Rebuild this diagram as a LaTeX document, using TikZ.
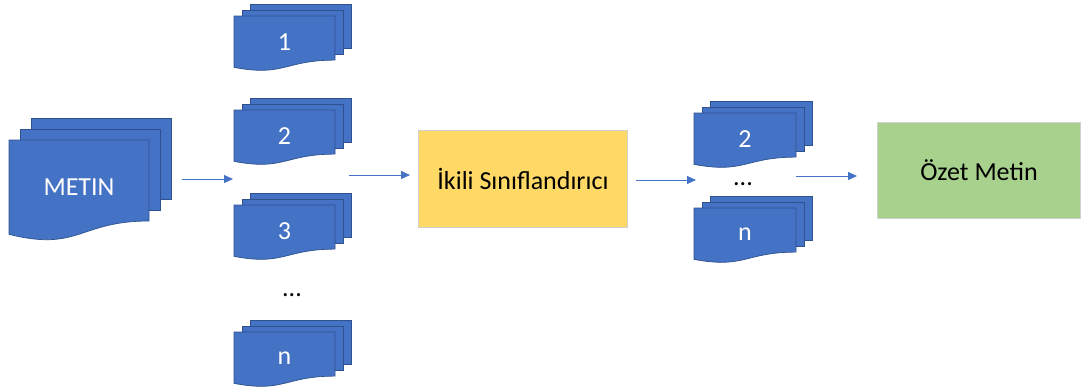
\documentclass[tikz,border=0pt]{standalone}
\usepackage{fontspec}
\setmainfont{Carlito}
\usepackage{xcolor}
\usetikzlibrary{arrows.meta, positioning, calc}

\definecolor{docblue}{HTML}{4472C4}
\definecolor{docedge}{HTML}{2F528F}
\definecolor{clfyellow}{HTML}{FFD966}
\definecolor{sumgreen}{HTML}{A9D18E}
\definecolor{boxedge}{HTML}{D0D0D0}

\tikzset{
    docsheet/.style={fill=docblue, draw=docedge, line width=0.7pt},
    doclabel/.style={text=white, font=\fontsize{26}{30}\selectfont, inner sep=0pt},
    stage/.style={draw=boxedge, line width=0.8pt, font=\fontsize{26}{30}\selectfont, text=black},
    flow/.style={draw=docblue, line width=0.9pt, -{Triangle[length=9pt,width=8pt]}}
}

% stack of three sheets: name, x, y, width, height, label
\newcommand{\docstack}[6]{%
    \draw[docsheet] ({#2+0.16*#4},{#3-0.21*#5}) rectangle ++(#4,{0.802*#5});
    \draw[docsheet] ({#2+0.08*#4},{#3-0.105*#5}) rectangle ++(#4,{0.802*#5});
    \draw[docsheet] (#2,#3) -- ++(#4,0) -- ++(0,{0.802*#5})
        .. controls ({#2+0.5*#4},{#3+0.802*#5}) and ({#2+0.5*#4},{#3+1.1075*#5})
        .. (#2,{#3+0.934*#5}) -- cycle;
    \node[doclabel] (#1) at ({#2+0.5*#4},{#3+0.47*#5}) {#6};
}

\begin{document}
\begin{tikzpicture}[x=1pt, y=-1pt]
    \useasboundingbox (0,0) rectangle (1081,389);

    % input text
    \docstack{metin}{9}{140}{140}{101}{METIN}

    % sentences
    \docstack{s1}{234}{16}{101}{55}{1}
    \docstack{s2}{234}{110}{101}{55}{2}
    \docstack{s3}{234}{205}{101}{55}{3}
    \node[font=\fontsize{26}{30}\selectfont] (sdots) at (292,295) {...};
    \docstack{sn}{234}{332}{101}{55}{n}

    % classifier
    \node[stage, fill=clfyellow, minimum width=209pt, minimum height=97pt] (clf) at (523,179) {İkili Sınıflandırıcı};

    % selected sentences
    \docstack{k2}{694}{113}{102}{55}{2}
    \node[font=\fontsize{26}{30}\selectfont] (kdots) at (743,184) {...};
    \docstack{kn}{694}{208}{102}{55}{n}

    % summary
    \node[stage, fill=sumgreen, minimum width=203pt, minimum height=96pt] (ozet) at (979,170) {Özet Metin};

    % arrow ends
    \coordinate (a1) at (182,179);
    \coordinate (b1) at (233,179);
    \coordinate (a2) at (349,175);
    \coordinate (b2) at (410,175);
    \coordinate (a3) at (636,180);
    \coordinate (b3) at (696,180);
    \coordinate (a4) at (796,176);
    \coordinate (b4) at (857,176);

    \draw[flow] (a1) -- (b1);
    \draw[flow] (a2) -- (b2);
    \draw[flow] (a3) -- (b3);
    \draw[flow] (a4) -- (b4);
\end{tikzpicture}
\end{document}
